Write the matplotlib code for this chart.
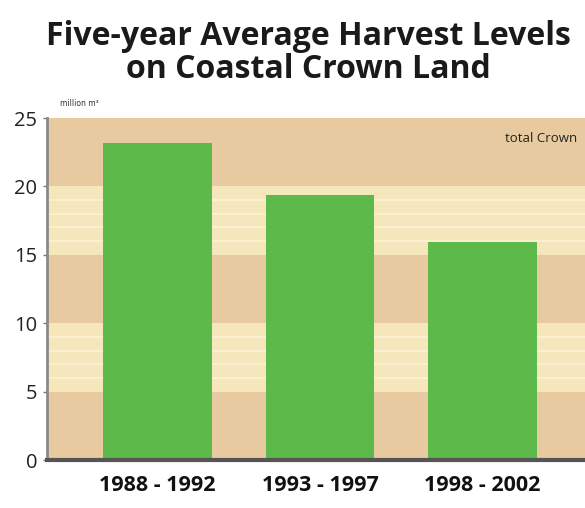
import matplotlib
matplotlib.use("Agg")
import matplotlib.pyplot as plt
from matplotlib import font_manager

categories = ["1988 - 1992", "1993 - 1997", "1998 - 2002"]
values = [23.2, 19.4, 15.9]
yticks = [0, 5, 10, 15, 20, 25]
title = "Five-year Average Harvest Levels\non Coastal Crown Land"
unit_label = "million m\u00b3"
series_label = "total Crown"

names = {f.name for f in font_manager.fontManager.ttflist}
narrow = "Liberation Sans Narrow" if "Liberation Sans Narrow" in names else "Open Sans"

tan = "#e8caa0"
cream = "#f6e6bb"
green = "#5cb94a"

fig = plt.figure(figsize=(5.85, 5.08), dpi=100)
ax = fig.add_axes([47/585, 1-460/508, 1-47/585, (460-118)/508])

x = list(range(len(categories)))
ax.set_xlim(-0.681, 2.632)
ax.set_ylim(0, 25)

# background bands
for i, (lo, hi) in enumerate(zip(yticks[:-1], yticks[1:])):
    col = tan if i % 2 == 0 else cream
    ax.axhspan(lo, hi, color=col, zorder=0, lw=0)
    if col == cream:
        for k in range(1, 5):
            ax.axhline(lo + k, color="#fbf1d2", lw=1.2, zorder=0.5)

ax.bar(x, values, width=0.669, color=green, zorder=2)

ax.set_yticks(yticks)
ax.set_yticklabels([str(t) for t in yticks], fontsize=14.5, family=narrow, color="#222")
ax.set_xticks(x)
ax.set_xticklabels(categories, fontsize=15.5, fontweight="bold", family=narrow, color="#111")
ax.tick_params(axis="x", length=0, pad=11)
ax.tick_params(axis="y", length=3, width=1, color="#777", pad=4)

for s in ["top", "right"]:
    ax.spines[s].set_visible(False)
ax.spines["left"].set_color("#8a8a8a")
ax.spines["left"].set_linewidth(2)
ax.spines["bottom"].set_color("#555555")
ax.spines["bottom"].set_linewidth(3)
ax.spines["bottom"].set_zorder(3)

fig.text(308/585, 1-53/508, title, ha="center", va="center", fontsize=23, fontweight="bold",
         family="Open Sans", color="#1a1a1a", linespacing=1.0)
fig.text(60/585, 1-103/508, unit_label, ha="left", va="center", fontsize=5.5, color="#333")
ax.text(0.985, 0.94, series_label, transform=ax.transAxes, ha="right", va="center",
        fontsize=9.5, family=narrow, color="#222")

fig.savefig("out.png", dpi=100)
